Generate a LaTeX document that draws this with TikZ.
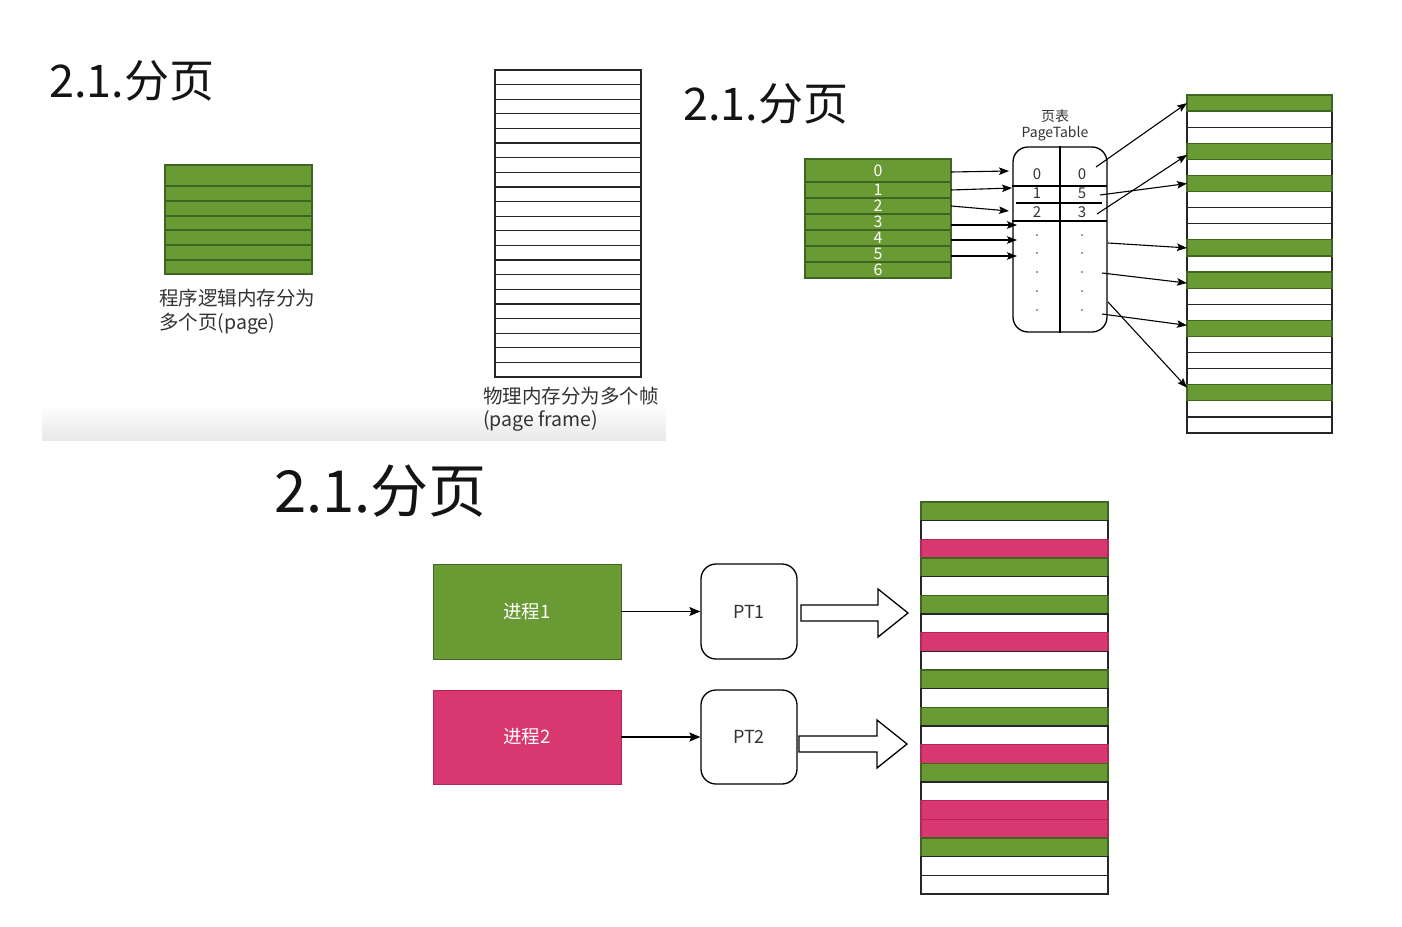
\documentclass[tikz,border=0pt]{standalone}
\usepackage{fontspec}
\setmainfont{Noto Sans CJK SC}
\usetikzlibrary{arrows.meta}
\definecolor{pgreen}{HTML}{6A9A34}
\definecolor{pgreenD}{HTML}{3E6620}
\definecolor{ppink}{HTML}{D8386F}
\definecolor{ppinkD}{HTML}{B02858}
\begin{document}
\begin{tikzpicture}[x=1pt,y=-1pt,
  cell/.style={draw, line width=1.2pt, inner sep=0pt, outer sep=0pt, anchor=north west},
  gcell/.style={cell, draw=pgreenD, fill=pgreen},
  wcell/.style={cell, draw=black!85, fill=white},
  pcell/.style={cell, draw=ppinkD, fill=ppink},
  cell-g/.style={gcell}, cell-w/.style={wcell}, cell-p/.style={pcell},
  titletxt/.style={anchor=base west, inner sep=0pt, text=black!92},
  lbl/.style={font=\fontsize{19.5}{22}\selectfont, anchor=base west, inner sep=0pt, text=black!80},
  small/.style={font=\fontsize{14}{16}\selectfont, inner sep=0pt, text=black!80},
  num/.style={font=\fontsize{15}{16}\selectfont, inner sep=0pt, text=black!80},
  arr/.style={-{Stealth[length=11pt,width=9pt,inset=2pt]}, line width=1.2pt},
  sarr/.style={-{Stealth[length=10pt,width=7.5pt,inset=2pt]}, line width=1.1pt},
  rbox/.style={draw, rounded corners=15pt, line width=1.3pt, inner sep=0pt, fill=white},
  blockarr/.style={draw, line width=1.3pt, fill=white, line join=miter},
]
\useasboundingbox[fill=white] (0,0) rectangle (1402,926);

% ---------- top-left panel ----------
\shade[top color=white, bottom color=black!9] (42,405) rectangle (666,440);
\node[titletxt, font=\fontsize{45}{50}\selectfont] (TA) at (49,97) {2.1.分页};

\foreach \t/\b [count=\i] in {165/186,186/201,201/216,216/230,230/245,245/260,260/274}{
  \pgfmathsetmacro\hh{\b-\t}
  \node[gcell, minimum width=147pt, minimum height=\hh pt] (LP\i) at (165,\t) {};
}
\node[lbl] (LA1) at (159,305) {程序逻辑内存分为};
\node[lbl] (LA2) at (159,329) {多个页(page)};

\foreach \i in {0,...,20}{
  \pgfmathsetmacro\tt{70+\i*14.619}
  \node[wcell, minimum width=146pt, minimum height=14.619pt] (PF\i) at (495,\tt) {};
}
\node[lbl] (LB1) at (483,403) {物理内存分为多个帧};
\node[lbl] (LB2) at (483,426) {(page frame)};

% ---------- top-right panel ----------
\node[titletxt, font=\fontsize{45}{50}\selectfont] (TB) at (683,120) {2.1.分页};

\foreach \t/\b/\l [count=\i from 0] in {159/182/0,182/198/1,198/214/2,214/230/3,230/246/4,246/262/5,262/278/6}{
  \pgfmathsetmacro\hh{\b-\t}
  \node[gcell, minimum width=146pt, minimum height=\hh pt, text=white, font=\fontsize{16}{16}\selectfont] (VP\i) at (805,\t) {\l};
}

\node[small] (H1) at (1055,116) {页表};
\node[small] (H2) at (1055,134) {PageTable};
\node[rbox, minimum width=94pt, minimum height=185pt] (PT) at (1060,239.5) {};
\draw[line width=1.2pt] (PT.north) -- (PT.south);
\draw[line width=1.2pt] (1012,186) -- (1107,186);
\draw[line width=1.2pt] (1016,203) -- (1102,203);
\draw[line width=1.2pt] (1012,221) -- (1107,221);
\node[num] (E00) at (1037,174) {0};
\node[num] (E01) at (1082,174) {0};
\node[num] (E10) at (1037,193) {1};
\node[num] (E11) at (1082,193) {5};
\node[num] (E20) at (1037,212) {2};
\node[num] (E21) at (1082,212) {3};
\foreach \y in {235,253,272,291,310}{
  \fill[black!75] (1037,\y) circle (0.9pt);
  \fill[black!75] (1082,\y) circle (0.9pt);
}

\foreach \i in {0,...,20}{
  \pgfmathsetmacro\tt{95+\i*16.095}
  \node[wcell, minimum width=145pt, minimum height=16.095pt] (RF\i) at (1187,\tt) {};
}
\foreach \i in {0,3,5,9,11,14,18}{
  \pgfmathsetmacro\tt{95+\i*16.095}
  \node[gcell, minimum width=145pt, minimum height=16.095pt] (RG\i) at (1187,\tt) {};
}

\coordinate (T0) at (1009,171);
\coordinate (T1) at (1012,188);
\coordinate (T2) at (1009,211);
\coordinate (T3) at (1017,225);
\coordinate (T4) at (1017,240);
\coordinate (T5) at (1017,256);
\draw[sarr] ([yshift=-1.5pt]VP0.east) -- (T0);
\draw[sarr] (VP1.east) -- (T1);
\draw[sarr] (VP2.east) -- (T2);
\draw[sarr] ([yshift=-3pt]VP3.east) -- (T3);
\draw[sarr] ([yshift=-2pt]VP4.east) -- (T4);
\draw[sarr] ([yshift=-2pt]VP5.east) -- (T5);

\coordinate (S0) at (1096,167);
\coordinate (S1) at (1100,195);
\coordinate (S2) at (1097,214);
\coordinate (S3) at (1108,243);
\coordinate (S4) at (1102,273);
\coordinate (S5) at (1102,314);
\coordinate (S6) at (1108,302);
\draw[sarr] (S0) -- (RG0.west);
\draw[sarr] (S1) -- (RG5.west);
\draw[sarr] (S2) -- ([yshift=-3.5pt]RG3.west);
\draw[sarr] (S3) -- (RG9.west);
\draw[sarr] (S4) -- ([yshift=-3pt]RG11.west);
\draw[sarr] (S5) -- ([yshift=3pt]RG14.west);
\draw[sarr] (S6) -- ([yshift=5pt]RG18.west);

% ---------- bottom panel ----------
\node[titletxt, font=\fontsize{58}{64}\selectfont] (TC) at (274,512) {2.1.分页};

\node[draw=pgreenD, line width=0.8pt, fill=pgreen, minimum width=188pt, minimum height=95pt, inner sep=0pt, text=white, font=\fontsize{18.5}{20}\selectfont] (P1) at (527,611.5) {进程1};
\node[draw=ppinkD, line width=0.8pt, fill=ppink, minimum width=188pt, minimum height=94pt, inner sep=0pt, text=white, font=\fontsize{18.5}{20}\selectfont] (P2) at (527,737) {进程2};
\node[rbox, minimum width=96pt, minimum height=95pt, font=\fontsize{18}{20}\selectfont, text=black!80] (Q1) at (749,611.5) {PT1};
\node[rbox, minimum width=96pt, minimum height=94pt, font=\fontsize{18}{20}\selectfont, text=black!80] (Q2) at (749,737) {PT2};
\draw[arr] (P1.east) -- (Q1.west);
\draw[arr] (P2.east) -- (Q2.west);

\draw[blockarr] (801,605) -- (878,605) -- (878,589) -- (908,613) -- (878,637) -- (878,621) -- (801,621) -- cycle;
\draw[blockarr] (799,736) -- (877,736) -- (877,720) -- (907,744) -- (877,768) -- (877,752) -- (799,752) -- cycle;

\foreach \c [count=\i from 0] in {g,w,p,g,w,g,w,p,w,g,w,g,w,p,g,w,p,p,g,w,w}{
  \pgfmathsetmacro\tt{502+\i*18.667}
  \node[cell-\c, minimum width=187pt, minimum height=18.667pt] (BF\i) at (921,\tt) {};
}
\end{tikzpicture}
\end{document}
